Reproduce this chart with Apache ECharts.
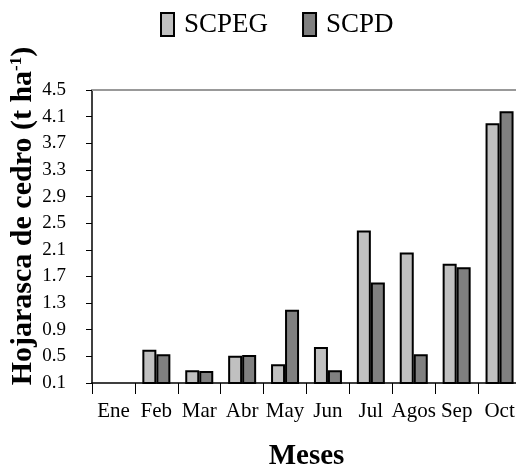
<!DOCTYPE html>
<html>
<head>
<meta charset="utf-8">
<script src="https://cdn.jsdelivr.net/npm/echarts@6/dist/echarts.min.js"></script>
<style>html,body{margin:0;padding:0;background:#fff}#c{width:516px;height:468px}</style>
</head>
<body>
<div id="c"></div>
<script>
const months = ['Ene','Feb','Mar','Abr','May','Jun','Jul','Agos','Sep','Oct'];
const scpeg = [null, 0.60, 0.29, 0.51, 0.38, 0.64, 2.39, 2.06, 1.89, 4.00];
const scpd  = [null, 0.53, 0.28, 0.52, 1.20, 0.29, 1.61, 0.53, 1.84, 4.18];
const yMin = 0.1, yMax = 4.5, yStep = 0.4;

const FONT = '"Liberation Serif","Times New Roman",serif';
const chart = echarts.init(document.getElementById('c'), null, {renderer:'canvas'});
chart.setOption({
  animation: false,
  backgroundColor: '#fff',
  legend: {
    left: 155, top: 6, icon: 'rect',
    itemWidth: 13, itemHeight: 23, itemGap: 34,
    textStyle: {fontFamily: FONT, fontSize: 27, color: '#000', padding: [0,0,0,5]},
    data: ['SCPEG','SCPD']
  },
  grid: {left: 92, top: 90, height: 293, width: 429, outerBoundsMode: 'none', containLabel: false},
  xAxis: [{
    type: 'category', data: months,
    axisLine: {lineStyle: {color: '#000', width: 1.5}},
    axisTick: {show: true, length: 11, lineStyle: {color: '#000'}},
    axisLabel: {fontFamily: FONT, fontSize: 21, color: '#000', margin: 18, interval: 0},
    name: 'Meses', nameLocation: 'middle', nameGap: 59,
    nameTextStyle: {fontFamily: FONT, fontSize: 29, fontWeight: 'bold', color: '#000'}
  },{
    type: 'category', data: months, position: 'top',
    axisLine: {lineStyle: {color: '#999', width: 2}},
    axisTick: {show: false}, axisLabel: {show: false}
  }],
  yAxis: {
    type: 'value', min: yMin, max: yMax, interval: yStep,
    axisLine: {show: true, lineStyle: {color: '#000', width: 1.5}},
    axisTick: {show: true, length: 6, lineStyle: {color: '#000'}},
    splitLine: {show: false},
    axisLabel: {fontFamily: FONT, fontSize: 19, color: '#000', margin: 26,
      formatter: v => v.toFixed(1)}
  },
  graphic: [{
    type: 'text', x: 23, y: 216, rotation: Math.PI/2,
    style: {
      text: '{b|Hojarasca de cedro (t ha}{s|-1}{b|)}',
      align: 'center', verticalAlign: 'middle',
      rich: {
        b: {fontFamily: FONT, fontSize: 30, fontWeight: 'bold', fill: '#000'},
        s: {fontFamily: FONT, fontSize: 17, fontWeight: 'bold', fill: '#000', verticalAlign: 'top', padding: [0,0,13,0]}
      }
    }
  }],
  series: [{
    name: 'SCPEG', type: 'bar', data: scpeg, barWidth: 14, barGap: '0%',
    itemStyle: {color: '#c0c0c0', borderColor: '#000', borderWidth: 2}
  },{
    name: 'SCPD', type: 'bar', data: scpd, barWidth: 14, barGap: '0%',
    itemStyle: {color: '#808080', borderColor: '#000', borderWidth: 2}
  }]
});
</script>
</body>
</html>
